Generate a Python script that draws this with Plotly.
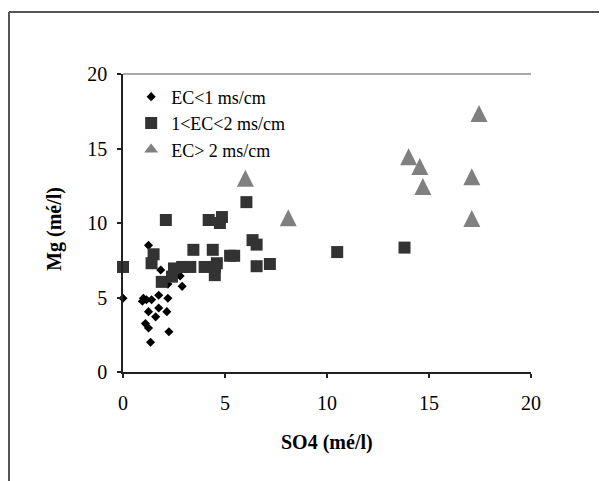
import plotly.graph_objects as go

# EC < 1 ms/cm (diamonds)
ec1_so4 = [0.0, 1.25, 1.85, 2.8, 2.2, 2.9, 2.2, 0.95, 1.15, 1.4, 1.75, 1.0,
           1.25, 1.75, 1.6, 2.15, 1.1, 1.25, 2.25, 1.35]
ec1_mg = [4.95, 8.5, 6.85, 6.45, 5.9, 5.75, 4.95, 4.75, 4.85, 4.85, 5.15, 4.95,
          4.05, 4.3, 3.7, 4.05, 3.25, 2.95, 2.7, 2.0]

# 1 < EC < 2 ms/cm (squares)
ec2_so4 = [0.0, 1.5, 1.4, 1.9, 2.4, 2.1, 4.2, 4.85, 4.75, 3.45, 4.4, 6.35, 6.55,
           5.25, 5.45, 6.55, 7.2, 2.5, 2.9, 3.3, 4.0, 4.5, 4.6, 4.5, 6.05,
           10.5, 13.8]
ec2_mg = [7.05, 7.9, 7.3, 6.05, 6.4, 10.2, 10.2, 10.4, 10.0, 8.2, 8.2, 8.85, 8.55,
          7.8, 7.8, 7.1, 7.25, 6.95, 7.05, 7.05, 7.05, 7.05, 7.3, 6.5, 11.4,
          8.05, 8.35]

# EC > 2 ms/cm (triangles)
ec3_so4 = [6.0, 8.1, 14.0, 14.55, 14.7, 17.45, 17.1, 17.1]
ec3_mg = [13.0, 10.35, 14.45, 13.8, 12.45, 17.35, 13.1, 10.3]

series_names = ["EC<1 ms/cm", "1<EC<2 ms/cm", "EC> 2 ms/cm"]
x_ticks = [0, 5, 10, 15, 20]
y_ticks = [0, 5, 10, 15, 20]

FONT = "Liberation Serif, Times New Roman, serif"
TRI = 17
TRI_COLOR = "#808080"

fig = go.Figure()
fig.add_trace(go.Scatter(
    x=ec1_so4, y=ec1_mg, mode="markers", name=series_names[0],
    marker=dict(symbol="diamond", size=7, color="#000000"),
    cliponaxis=False))
fig.add_trace(go.Scatter(
    x=ec2_so4, y=ec2_mg, mode="markers", name=series_names[1],
    marker=dict(symbol="square", size=12, color="#333333"),
    cliponaxis=False))
# taller (Excel-like) triangles, centred on the data point
fig.add_trace(go.Scatter(
    x=ec3_so4, y=ec3_mg, mode="markers", name=series_names[2],
    legendgroup="ec3", showlegend=False,
    marker=dict(symbol="arrow-down", angle=180, size=TRI, color=TRI_COLOR,
                standoff=TRI / 2),
    cliponaxis=False))
# legend entry for the triangle series
fig.add_trace(go.Scatter(
    x=[None], y=[None], mode="markers", name=series_names[2],
    legendgroup="ec3", showlegend=True,
    marker=dict(symbol="triangle-up", size=12, color=TRI_COLOR)))

fig.update_layout(
    width=599, height=473, autosize=False,
    margin=dict(l=115, r=76, t=66, b=109),
    paper_bgcolor="white", plot_bgcolor="white",
    font=dict(family=FONT, size=20, color="#000000"),
    showlegend=True,
    legend=dict(x=0.02, y=0.985, xanchor="left", yanchor="top",
                bgcolor="rgba(255,255,255,0)", borderwidth=0,
                font=dict(family=FONT, size=18, color="#000000"),
                itemwidth=30, tracegroupgap=0),
    xaxis=dict(range=[0, 20], tickvals=x_ticks, ticktext=[str(v) for v in x_ticks],
               showgrid=False, zeroline=False, showline=True, linecolor="#222222",
               linewidth=1.5, ticks="outside", ticklen=4, tickcolor="#222222",
               tickwidth=1.5, ticklabelstandoff=8, mirror=False),
    yaxis=dict(range=[0, 20], tickvals=y_ticks, ticktext=[str(v) for v in y_ticks],
               showgrid=False, zeroline=False, showline=True, linecolor="#222222",
               linewidth=1.5, ticks="outside", ticklen=4, tickcolor="#222222",
               tickwidth=1.5, ticklabelstandoff=6, mirror=False),
    annotations=[
        dict(text="<b>SO4 (mé/l)</b>", xref="paper", yref="paper", x=0.5, y=-0.235,
             showarrow=False, font=dict(family=FONT, size=20, color="#000000"),
             xanchor="center", yanchor="middle"),
        dict(text="<b>Mg (mé/l)</b>", xref="paper", yref="paper", x=-0.167, y=0.48,
             showarrow=False, textangle=-90,
             font=dict(family=FONT, size=20, color="#000000"),
             xanchor="center", yanchor="middle"),
    ],
    shapes=[
        # outer frame (top and left edges visible)
        dict(type="line", xref="paper", yref="paper", x0=-0.2794, x1=1.2,
             y0=1.208, y1=1.208, line=dict(color="#555555", width=2)),
        dict(type="line", xref="paper", yref="paper", x0=-0.2794, x1=-0.2794,
             y0=1.208, y1=-0.4, line=dict(color="#555555", width=2)),
        # top edge of plot area
        dict(type="line", xref="paper", yref="paper", x0=0, x1=1,
             y0=1, y1=1, line=dict(color="#555555", width=1)),
    ],
)

fig.write_html("out.html")
